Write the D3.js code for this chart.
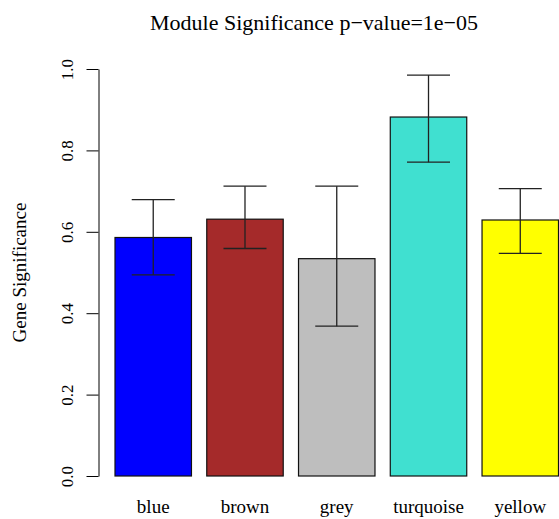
<!DOCTYPE html>
<html lang="en">
<head>
    <meta charset="UTF-8">
    <title>Module Significance</title>
    <script src="https://cdnjs.cloudflare.com/ajax/libs/d3/7.8.5/d3.min.js"></script>
    <style>
        body { margin: 0; background: #fff; }
        svg { display: block; font-family: "Liberation Serif", "DejaVu Serif", serif; }
    </style>
</head>
<body>
    <div id="wrapper"></div>
    <script>
        // data
        const modules = ['blue', 'brown', 'grey', 'turquoise', 'yellow']
        const barColors = ['#0000FF', '#A52A2A', '#BEBEBE', '#40E0D0', '#FFFF00']
        const meanGS = [0.586, 0.631, 0.534, 0.882, 0.629]
        const errHigh = [0.679, 0.712, 0.712, 0.985, 0.706]
        const errLow = [0.494, 0.559, 0.368, 0.771, 0.547]
        const yTicks = [0, 0.2, 0.4, 0.6, 0.8, 1.0]

        const dataset = modules.map((m, i) => ({
            module: m, color: barColors[i], mean: meanGS[i], hi: errHigh[i], lo: errLow[i]
        }))

        const width = 559
        const height = 519

        const svg = d3.select('#wrapper')
            .append('svg')
                .attr('width', width)
                .attr('height', height)

        const xScale = d3.scaleBand()
            .domain(modules)
            .range([115, 558.5])
            .paddingInner(1 / 6)
            .paddingOuter(0)

        const yScale = d3.scaleLinear()
            .domain([0, 1])
            .range([476, 69])

        // bars
        svg.append('g')
            .selectAll('rect')
            .data(dataset)
            .enter().append('rect')
                .attr('x', d => xScale(d.module))
                .attr('y', d => yScale(d.mean))
                .attr('width', xScale.bandwidth())
                .attr('height', d => yScale(0) - yScale(d.mean))
                .attr('fill', d => d.color)
                .attr('stroke', '#111')
                .attr('stroke-width', 1.2)

        // error bars
        const capHalf = 21.5
        const errGroups = svg.append('g')
            .attr('stroke', '#222')
            .attr('stroke-width', 1.3)
            .selectAll('g')
            .data(dataset)
            .enter().append('g')
                .attr('transform', d => `translate(${xScale(d.module) + xScale.bandwidth() / 2},0)`)

        errGroups.append('line')
            .attr('x1', 0).attr('x2', 0)
            .attr('y1', d => yScale(d.lo))
            .attr('y2', d => yScale(d.hi))
        errGroups.append('line')
            .attr('x1', -capHalf).attr('x2', capHalf)
            .attr('y1', d => yScale(d.hi)).attr('y2', d => yScale(d.hi))
        errGroups.append('line')
            .attr('x1', -capHalf).attr('x2', capHalf)
            .attr('y1', d => yScale(d.lo)).attr('y2', d => yScale(d.lo))

        // y axis
        const yAxis = svg.append('g')
            .attr('transform', 'translate(98.5,0)')
            .call(d3.axisLeft(yScale)
                .tickValues(yTicks)
                .tickFormat(d3.format('.1f'))
                .tickSize(12)
                .tickSizeOuter(0))

        yAxis.select('.domain').attr('stroke', '#000')
        yAxis.selectAll('.tick line').attr('stroke', '#000')
        yAxis.selectAll('.tick text')
            .attr('x', null).attr('dy', null)
            .attr('transform', 'translate(-26,0) rotate(-90)')
            .style('text-anchor', 'middle')
            .style('font-family', '"Liberation Serif", serif')
            .style('font-size', '17px')
            .attr('fill', '#000')

        // x labels (kept just inside the bottom edge so descenders show)
        svg.append('g')
            .selectAll('text')
            .data(modules)
            .enter().append('text')
                .attr('x', d => xScale(d) + xScale.bandwidth() / 2)
                .attr('y', 513)
                .style('text-anchor', 'middle')
                .style('font-size', '19px')
                .text(d => d)

        // y label
        svg.append('text')
            .attr('transform', `translate(26,${yScale(0.5)}) rotate(-90)`)
            .style('text-anchor', 'middle')
            .style('font-size', '19px')
            .text('Gene Significance')

        // title
        svg.append('text')
            .attr('x', 314)
            .attr('y', 30)
            .style('text-anchor', 'middle')
            .style('font-size', '22px')
            .text('Module Significance p\u2212value=1e\u221205')
    </script>
</body>
</html>
